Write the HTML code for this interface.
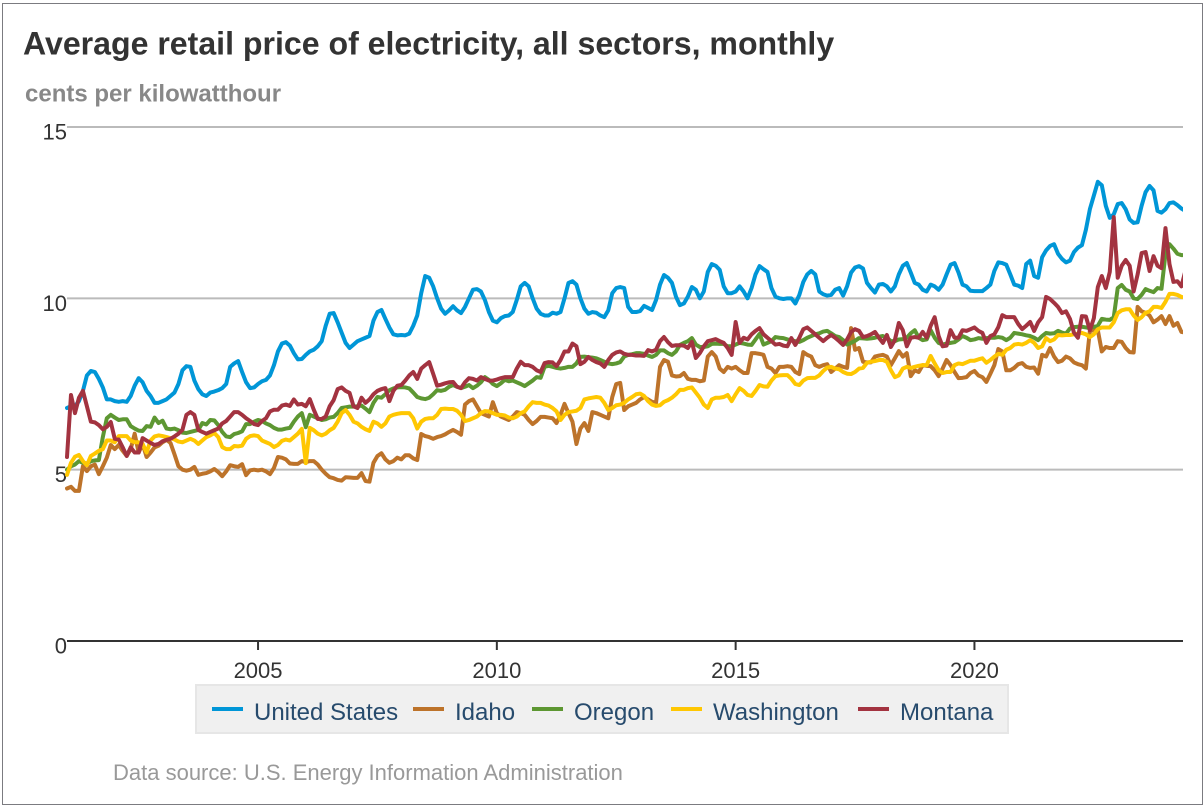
<!DOCTYPE html>
<html lang="en">
<head>
<meta charset="utf-8">
<title>Average retail price of electricity</title>
<style>
html,body{margin:0;padding:0;background:#fff;width:1204px;height:807px;overflow:hidden}
svg{display:block;font-family:"Liberation Sans",Arial,sans-serif}
</style>
</head>
<body>
<svg id="chart" xmlns="http://www.w3.org/2000/svg" width="1204" height="807" viewBox="0 0 1204 807">
  <defs><clipPath id="plot-clip"><rect x="65" y="100" width="1118" height="560"/></clipPath></defs>
  <rect x="2.5" y="3.5" width="1200" height="801" fill="#fff" stroke="#7b7b80" stroke-width="1"/>
  <text x="23" y="54.5" font-size="32.1" font-weight="700" fill="#333">Average retail price of electricity, all sectors, monthly</text>
  <text x="25" y="101.5" font-size="24" font-weight="700" fill="#888">cents per kilowatthour</text>
  <g id="y-grid"></g>
  <g id="x-axis"></g>
  <g id="series" clip-path="url(#plot-clip)"></g>
  <g>
    <rect x="196" y="685" width="812" height="48" fill="#f0f0f0" stroke="#e6e6e6" stroke-width="2"/>
    <g id="legend-items"></g>
  </g>
  <text x="113" y="780" font-size="22" fill="#999">Data source: U.S. Energy Information Administration</text>
</svg>
<script>
const yTicks = [0, 5, 10, 15];
const xTickYears = [2005, 2010, 2015, 2020];
const seriesNames = ['United States', 'Idaho', 'Oregon', 'Washington', 'Montana'];
const unitedStates = [
6.8,6.85,6.85,7.0,7.3,7.75,7.88,7.85,7.65,7.4,7.05,7.05,
7.0,6.98,7.0,6.98,7.15,7.45,7.67,7.55,7.3,7.15,6.95,6.95,
7.0,7.05,7.15,7.25,7.5,7.9,8.02,8.0,7.6,7.35,7.2,7.15,
7.25,7.28,7.32,7.38,7.5,8.0,8.1,8.17,7.85,7.55,7.38,7.4,
7.5,7.58,7.62,7.75,8.05,8.45,8.68,8.72,8.62,8.4,8.22,8.23,
8.35,8.45,8.5,8.6,8.75,9.2,9.55,9.57,9.3,9.0,8.7,8.55,
8.65,8.75,8.8,8.85,8.9,9.35,9.6,9.66,9.4,9.15,8.95,8.92,
8.93,8.92,8.97,9.2,9.5,10.15,10.65,10.6,10.35,10.0,9.7,9.55,
9.65,9.77,9.65,9.57,9.75,10.0,10.25,10.27,10.2,9.95,9.6,9.35,
9.3,9.42,9.48,9.5,9.6,9.95,10.35,10.45,10.35,10.0,9.7,9.55,
9.5,9.5,9.58,9.55,9.6,10.0,10.45,10.5,10.4,10.0,9.7,9.55,
9.6,9.58,9.5,9.45,9.65,10.15,10.3,10.33,10.3,9.75,9.6,9.6,
9.63,9.78,9.72,9.66,9.95,10.4,10.68,10.6,10.45,10.05,9.8,9.85,
10.05,10.33,10.25,10.0,10.2,10.77,11.0,10.95,10.83,10.35,10.15,10.15,
10.2,10.35,10.2,10.0,10.3,10.7,10.94,10.85,10.77,10.3,10.05,10.0,
9.98,10.0,10.0,9.85,10.1,10.48,10.7,10.8,10.7,10.2,10.12,10.08,
10.1,10.25,10.3,10.08,10.35,10.75,10.9,10.94,10.87,10.45,10.3,10.17,
10.4,10.42,10.35,10.2,10.35,10.7,10.95,11.03,10.75,10.45,10.4,10.25,
10.2,10.4,10.35,10.25,10.4,10.7,10.98,11.03,10.75,10.4,10.35,10.22,
10.21,10.21,10.21,10.3,10.4,10.8,11.05,11.03,10.98,10.7,10.4,10.37,
10.3,11.0,11.1,10.65,10.6,11.2,11.4,11.53,11.58,11.3,11.15,11.05,
11.1,11.35,11.48,11.55,12.0,12.6,13.0,13.4,13.3,12.7,12.35,12.45,
12.75,12.78,12.6,12.3,12.2,12.22,12.7,13.1,13.28,13.15,12.55,12.5,
12.6,12.78,12.8,12.72,12.62,12.55];
const idaho = [
4.45,4.5,4.38,4.38,5.1,4.96,5.1,5.15,4.87,5.1,5.35,5.72,
5.6,5.72,5.55,5.4,5.6,6.05,5.5,5.75,5.37,5.5,5.65,5.7,
5.8,5.87,5.78,5.45,5.1,5.0,4.97,5.0,5.08,4.85,4.88,4.9,
4.95,5.02,4.93,4.81,4.95,5.13,5.1,5.08,5.16,4.84,4.98,5.0,
4.98,5.0,4.95,4.87,5.05,5.37,5.35,5.3,5.18,5.17,5.17,5.25,
5.22,5.25,5.25,5.15,5.0,4.88,4.78,4.75,4.7,4.68,4.78,4.77,
4.76,4.76,4.9,4.67,4.65,5.2,5.4,5.48,5.3,5.2,5.25,5.35,
5.3,5.42,5.42,5.33,5.28,6.04,5.98,5.95,5.9,5.95,5.98,6.03,
6.1,6.16,6.1,6.02,6.9,7.0,7.05,6.85,6.65,6.6,6.55,6.97,
6.65,6.55,6.5,6.45,6.55,6.68,6.65,6.6,6.45,6.33,6.42,6.54,
6.54,6.52,6.5,6.36,6.6,6.92,6.65,6.4,5.75,6.2,6.36,6.13,
6.68,6.65,6.6,6.55,6.5,7.12,7.5,7.53,6.74,6.85,6.9,6.95,
7.05,7.12,7.05,6.98,6.95,8.0,8.2,8.15,7.75,7.72,7.73,7.82,
7.65,7.62,7.62,7.58,7.6,8.3,8.43,8.3,7.95,7.85,8.0,7.95,
8.0,7.9,7.82,7.82,8.4,8.4,8.38,8.35,8.0,7.95,7.82,8.0,
8.0,8.02,8.0,7.85,7.79,8.43,8.35,8.3,8.05,8.0,8.05,8.08,
7.85,7.95,8.05,8.0,7.97,9.13,8.5,8.55,8.15,8.13,8.13,8.3,
8.33,8.35,8.3,8.05,8.25,8.46,8.3,8.4,7.73,7.9,7.85,8.05,
8.03,8.02,7.9,7.73,7.95,8.2,8.05,7.85,7.67,7.68,7.7,7.82,
7.88,7.75,7.7,7.56,7.8,8.05,8.52,8.45,7.9,7.9,7.97,8.08,
8.11,8.0,7.97,7.98,7.8,8.35,8.3,8.55,8.3,8.14,8.18,8.3,
8.25,8.13,8.08,8.05,7.95,9.05,9.07,9.07,8.45,8.58,8.55,8.55,
8.75,8.73,8.55,8.43,8.42,9.75,9.62,9.58,9.5,9.3,9.38,9.48,
9.25,9.48,9.2,9.28,9.02,9.0];
const oregon = [
5.0,5.1,5.15,5.25,5.2,5.18,5.25,5.27,5.28,5.95,6.5,6.6,
6.52,6.45,6.47,6.47,6.27,6.2,6.14,6.13,6.27,6.25,6.52,6.36,
6.43,6.2,6.18,6.2,6.15,6.08,6.07,6.1,6.13,6.16,6.36,6.32,
6.45,6.44,6.3,6.1,5.97,5.95,6.04,6.07,6.12,6.33,6.33,6.4,
6.45,6.42,6.35,6.3,6.22,6.17,6.17,6.2,6.22,6.4,6.55,6.65,
6.24,6.6,6.55,6.5,6.45,6.47,6.52,6.54,6.65,6.8,6.82,6.84,
6.84,6.85,6.87,6.78,6.68,6.95,7.12,7.1,7.2,7.32,7.37,7.4,
7.41,7.4,7.37,7.25,7.12,7.08,7.06,7.1,7.2,7.32,7.3,7.33,
7.42,7.47,7.42,7.38,7.42,7.47,7.38,7.45,7.55,7.7,7.62,7.5,
7.44,7.52,7.62,7.58,7.6,7.55,7.5,7.44,7.52,7.6,7.7,7.68,
8.0,8.03,8.0,7.97,7.95,7.97,8.0,8.0,8.1,8.29,8.3,8.28,
8.27,8.25,8.2,8.15,8.1,8.08,8.1,8.14,8.3,8.35,8.37,8.4,
8.4,8.38,8.33,8.29,8.35,8.48,8.48,8.4,8.35,8.45,8.64,8.7,
8.75,8.84,8.65,8.58,8.58,8.6,8.67,8.68,8.67,8.67,8.6,8.6,
8.65,8.7,8.68,8.65,8.64,8.8,8.96,8.65,8.7,8.75,8.87,8.85,
8.84,8.8,8.78,8.75,8.73,8.78,8.85,8.9,8.95,8.98,9.03,9.05,
8.98,8.9,8.87,8.78,8.65,8.7,8.76,8.84,8.83,8.82,8.83,8.85,
8.88,8.9,8.85,8.75,8.75,8.8,8.81,8.85,8.98,9.07,8.85,8.78,
8.8,9.07,8.85,8.7,8.65,8.68,8.7,8.72,8.8,8.9,8.85,8.78,
8.8,8.84,8.82,8.84,8.85,8.85,8.87,8.85,8.78,8.85,8.99,8.97,
8.95,8.92,8.9,8.85,8.78,8.9,8.99,8.97,8.98,9.05,9.0,8.97,
9.12,9.16,9.17,9.17,9.15,9.13,9.17,9.2,9.4,9.38,9.37,9.45,
10.3,10.39,10.25,10.2,10.0,9.98,10.1,10.27,10.22,10.18,10.3,10.28,
11.3,11.58,11.45,11.3,11.26,11.26];
const washington = [
4.85,5.2,5.38,5.43,5.25,5.13,5.4,5.47,5.55,5.6,5.85,5.85,
5.8,5.98,5.98,5.98,5.85,5.8,5.8,5.75,5.5,5.85,5.97,6.0,
5.98,5.95,5.92,5.88,5.82,5.8,5.85,5.9,5.85,5.75,5.85,5.95,
6.0,6.07,5.95,5.66,5.6,5.6,5.69,5.68,5.7,5.9,5.98,6.0,
5.98,5.85,5.8,5.75,5.66,5.72,5.84,5.88,5.85,5.95,6.05,6.19,
5.19,6.22,6.15,6.05,6.0,6.05,6.15,6.22,6.4,6.65,6.74,6.6,
6.4,6.35,6.25,6.18,6.13,6.4,6.35,6.25,6.35,6.55,6.6,6.63,
6.65,6.65,6.65,6.5,6.2,6.4,6.48,6.5,6.5,6.6,6.77,6.78,
6.77,6.77,6.72,6.6,6.42,6.45,6.5,6.55,6.65,6.71,6.7,6.65,
6.6,6.6,6.58,6.52,6.5,6.55,6.65,6.7,6.85,6.97,6.95,6.95,
6.9,6.87,6.8,6.7,6.45,6.6,6.68,6.7,6.72,6.8,7.05,7.08,
7.1,7.12,7.1,6.95,6.74,6.8,6.88,6.9,6.95,7.05,7.12,7.2,
7.22,7.15,7.0,6.9,6.86,6.88,6.98,7.03,7.1,7.2,7.33,7.33,
7.38,7.4,7.25,7.1,6.9,6.8,7.05,7.1,7.1,7.12,7.18,7.0,
7.2,7.38,7.3,7.18,7.15,7.3,7.47,7.43,7.42,7.6,7.73,7.75,
7.76,7.76,7.65,7.5,7.47,7.6,7.67,7.68,7.68,7.75,7.88,7.98,
8.0,7.95,7.93,7.85,7.8,7.79,7.85,7.95,7.97,8.12,8.15,8.17,
8.2,8.2,8.15,7.9,7.7,7.75,7.95,8.0,7.97,8.0,8.03,8.05,
8.05,8.32,8.1,7.9,7.82,7.85,7.85,8.05,8.1,8.08,8.13,8.18,
8.18,8.22,8.25,8.12,8.2,8.3,8.38,8.35,8.5,8.55,8.65,8.67,
8.65,8.7,8.78,8.7,8.55,8.6,8.84,8.75,8.8,8.93,8.92,8.93,
8.93,8.95,8.97,8.99,8.95,8.87,8.95,9.1,9.15,9.15,9.15,9.3,
9.57,9.65,9.68,9.68,9.5,9.37,9.45,9.58,9.62,9.75,9.75,9.72,
9.9,10.13,10.13,10.1,10.04,10.03];
const montana = [
5.37,7.18,6.65,7.1,7.3,6.85,6.4,6.38,6.3,6.18,6.25,6.39,
5.9,5.88,5.65,5.4,5.65,5.5,5.5,5.92,5.85,5.78,5.72,5.75,
5.83,5.87,5.9,5.97,6.05,6.16,6.6,6.68,6.6,6.16,6.1,6.05,
6.1,6.15,6.2,6.35,6.42,6.55,6.68,6.68,6.6,6.5,6.42,6.33,
6.3,6.42,6.5,6.7,6.75,6.75,6.87,6.9,6.86,7.05,6.9,6.92,
6.85,7.06,6.75,6.48,6.48,6.55,6.85,7.03,7.35,7.4,7.3,7.24,
6.85,6.8,7.1,6.95,7.05,7.2,7.3,7.35,7.38,7.0,7.3,7.45,
7.47,7.6,7.75,7.85,7.65,7.95,8.05,8.14,7.8,7.45,7.48,7.52,
7.55,7.56,7.42,7.38,7.55,7.67,7.65,7.6,7.7,7.65,7.6,7.6,
7.63,7.67,7.7,7.7,7.7,7.95,8.15,8.05,8.05,8.0,7.9,7.85,
8.11,8.14,8.13,8.02,8.2,8.45,8.45,8.68,8.6,8.08,8.15,8.29,
8.2,8.14,8.1,8.0,8.2,8.35,8.42,8.45,8.38,8.35,8.35,8.33,
8.33,8.32,8.49,8.45,8.5,8.75,8.87,8.72,8.61,8.63,8.63,8.62,
8.55,8.73,8.26,8.4,8.6,8.75,8.78,8.81,8.75,8.7,8.55,8.35,
9.31,8.7,8.85,8.8,8.95,9.05,9.13,8.95,8.85,8.75,8.65,8.67,
8.62,8.6,8.84,8.64,8.85,9.1,9.15,9.05,8.95,8.85,8.75,8.85,
8.93,8.85,8.75,8.64,8.8,9.02,9.1,9.05,8.87,8.9,8.95,9.02,
8.85,8.7,8.93,8.58,8.78,9.28,9.07,8.6,8.85,8.87,8.85,9.02,
8.85,9.2,9.45,8.9,8.6,8.62,9.07,8.85,8.85,9.07,9.05,9.1,
9.15,9.05,8.99,8.7,8.9,8.95,9.16,9.51,9.45,9.45,9.45,9.25,
9.1,9.2,9.31,9.05,9.3,9.45,10.04,9.98,9.87,9.75,9.57,9.62,
9.4,9.0,8.85,9.48,9.47,9.07,9.42,10.33,10.65,10.3,10.77,12.37,
10.6,10.95,11.12,10.95,10.2,10.7,11.32,11.35,10.8,11.23,10.95,10.88,
12.05,11.0,10.48,10.5,10.35,10.8];

const SVGNS = 'http://www.w3.org/2000/svg';
const startYear = 2001;
function xScale(monthIndex) { return 67 + monthIndex * (1116 / 280.4); }
function yScale(value) { return 641 - value * (514 / 15); }
function make(tag, attrs, parent, text) {
  const el = document.createElementNS(SVGNS, tag);
  for (const k in attrs) el.setAttribute(k, attrs[k]);
  if (text !== undefined) el.textContent = text;
  parent.appendChild(el);
  return el;
}

const yGrid = document.getElementById('y-grid');
yTicks.forEach(function (t) {
  const y = yScale(t);
  if (t !== 0) {
    const line = make('line', {x1: 67, x2: 1183, y1: y, y2: y, stroke: '#bbb', 'stroke-width': 2}, yGrid);
    
    
  }
  const label = make('text', {x: 67, y: y + 12.5, 'text-anchor': 'end', 'font-size': 22, fill: '#333'}, yGrid, String(t));
  
  
});

const xAxis = document.getElementById('x-axis');
const axisLine = make('line', {x1: 67, x2: 1183, y1: 641, y2: 641, stroke: '#333', 'stroke-width': 2}, xAxis);


xTickYears.forEach(function (year) {
  const x = xScale((year - startYear) * 12);
  const tick = make('line', {x1: x, x2: x, y1: 641, y2: 650, stroke: '#333', 'stroke-width': 2}, xAxis);
  
  
  const label = make('text', {x: x, y: 678, 'text-anchor': 'middle', 'font-size': 22, fill: '#333'}, xAxis, String(year));
  
  
});

const seriesValues = [unitedStates, idaho, oregon, washington, montana];
const seriesColors = ['#0096d7', '#bd732a', '#5d9732', '#ffc702', '#a33340'];
const seriesGroup = document.getElementById('series');
seriesValues.forEach(function (values, s) {
  const d = values.map(function (v, i) {
    return (i ? 'L' : 'M') + xScale(i).toFixed(2) + ' ' + yScale(v).toFixed(2);
  }).join('');
  const path = make('path', {d: d, fill: 'none', stroke: seriesColors[s], 'stroke-width': 4, 'stroke-linejoin': 'round', 'stroke-linecap': 'round'}, seriesGroup);
  
  
});

const legendTextX = [254, 455, 574, 713, 900];
const legendItems = document.getElementById('legend-items');
seriesNames.forEach(function (name, s) {
  const slug = name.toLowerCase().replace(/ /g, '-');
  const entry = make('g', {}, legendItems);
  
  
  const swatch = make('line', {x1: legendTextX[s] - 42, x2: legendTextX[s] - 11, y1: 709, y2: 709, stroke: seriesColors[s], 'stroke-width': 4}, entry);
  
  
  const label = make('text', {x: legendTextX[s], y: 720, 'font-size': 24, fill: '#274b6d'}, entry, name);
  
  
});
</script>
</body>
</html>
